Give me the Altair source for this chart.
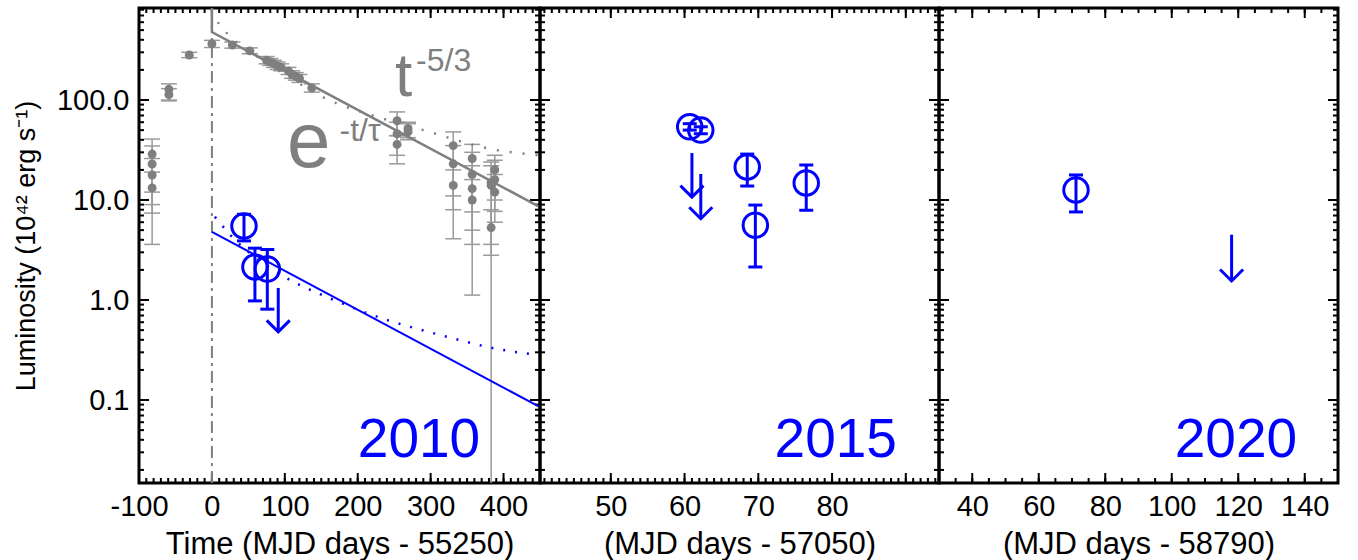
import altair as alt
import pandas as pd

# ---------------- data ----------------
YMIN, YMAX = 0.0148, 832.0

# Panel 2010: grey (optical) light curve, days since MJD 55250
grey_day = [-82, -82, -82, -82, -59, -59, -31, 0, 28, 52, 75, 80, 85, 90, 95, 105, 110, 115, 120, 137,
            254, 254, 254, 269, 269, 331, 331, 331, 357, 357, 357, 357, 383, 383, 383, 388, 388, 388]
grey_lum = [28.8, 22.9, 17.8, 13.2, 128, 113, 282, 365, 355, 310, 250, 240, 230, 220, 212, 195, 180, 172, 165, 132,
            62, 46, 36, 52, 48, 35, 23, 14, 26, 18, 13, 10, 15, 14, 5.3, 20, 12, 16]
grey_lo = [7.4, 3.6, 12, 9, 98, 100, 265, 335, 330, 290, 230, 222, 212, 202, 196, 180, 165, 158, 150, 120,
           44, 23, 28, 42, 40, 11, 4.1, 8, 7.6, 3.6, 1.12, 5, YMIN, 2.8, 3.6, 7.7, 6, 10]
grey_hi = [40.7, 34.7, 26, 19, 145, 130, 300, 395, 380, 332, 272, 260, 250, 240, 230, 212, 196, 188, 180, 145,
           76, 60, 44, 60, 58, 48, 35, 20, 36, 30, 22, 16, 24, 22, 8, 28, 18, 25]

# model curves
gexp_day = [0, 0, 450]
gexp_lum = [832, 478, 8.5]
gpow_day = [8, 25, 60, 100, 158, 218, 290, 386, 450]
gpow_lum = [600, 430, 280, 180, 102, 71, 50, 32, 28]
bexp_day = [0, 450]
bexp_lum = [4.8, 0.085]
bpow_day = [4, 25, 100, 158, 217, 322, 386, 450]
bpow_lum = [6.8, 4.5, 1.7, 1.07, 0.72, 0.43, 0.33, 0.28]

# blue detections / upper limits per epoch
b1_day = [44, 59, 76]
b1_lum = [5.5, 2.14, 2.04]
b1_lo = [3.9, 0.98, 0.81]
b1_hi = [7.2, 3.3, 3.2]
u1_day = [91]
u1_top = [1.32]
u1_tip = [0.48]

b2_day = [60.7, 62.2, 68.5, 69.6, 76.5]
b2_lum = [54, 50, 21.4, 5.6, 14.8]
b2_lo = [50, 46, 13.8, 2.14, 7.9]
b2_hi = [58, 54, 28.8, 8.9, 22.4]
u2_day = [61, 62.2]
u2_top = [29.5, 18.2]
u2_tip = [10.7, 6.5]

b3_day = [71.2]
b3_lum = [12.6]
b3_lo = [7.6]
b3_hi = [17.8]
u3_day = [118]
u3_top = [4.5]
u3_tip = [1.55]

# axis ticks
y_major = [0.1, 1, 10, 100]
y_minor = [0.02, 0.03, 0.04, 0.05, 0.06, 0.07, 0.08, 0.09,
           0.2, 0.3, 0.4, 0.5, 0.6, 0.7, 0.8, 0.9,
           2, 3, 4, 5, 6, 7, 8, 9,
           20, 30, 40, 50, 60, 70, 80, 90,
           200, 300, 400, 500, 600, 700, 800]
x1_major = [-100, 0, 100, 200, 300, 400]
x1_minor = list(range(-100, 451, 10))
x2_major = [50, 60, 70, 80, 90]
x2_minor = list(range(41, 95, 1))
x3_major = [40, 60, 80, 100, 120, 140]
x3_minor = list(range(30, 151, 5))

FONT = "Liberation Sans"
BLUE = "#0000ff"
GREY = "#7f7f7f"
GREY_ERR = "#9a9a9a"
H = 475
FS = 29

yscale = alt.Scale(type="log", domain=[YMIN, YMAX], nice=False)


def panel(dom, width, xlabels, xmaj, xmin_, xtitle, show_y, blue, ul, year, extra=None):
    xscale = alt.Scale(domain=dom, nice=False, zero=False)
    xaxis = alt.Axis(values=xlabels, ticks=False, domain=False, grid=False,
                     labelFont=FONT, labelFontSize=FS, labelColor="black", labelPadding=9,
                     labelExpr="'' + datum.value", labelFlush=False, labelOverlap=False,
                     title=xtitle, titleFont=FONT, titleFontSize=31, titleFontWeight="normal",
                     titleColor="black", titlePadding=8)
    if show_y:
        yaxis = alt.Axis(values=y_major, ticks=False, tickSize=0, domain=False, grid=False,
                         labelFont=FONT, labelFontSize=FS, labelColor="black", labelPadding=10,
                         format=".1f", labelFlush=False, labelOverlap=False,
                         title="Luminosity (10⁴² erg s⁻¹)", titleFont=FONT, titleFontSize=27,
                         titleFontWeight="normal", titleColor="black", titlePadding=16)
    else:
        yaxis = None

    def X(f):
        return alt.X(f, type="quantitative", scale=xscale, axis=xaxis)

    def Y(f):
        return alt.Y(f, type="quantitative", scale=yscale, axis=yaxis)

    layers = []
    # ticks (inward, all four sides)
    ymj = pd.DataFrame({"v": y_major})
    ymn = pd.DataFrame({"v": y_minor})
    xmj = pd.DataFrame({"v": xmaj})
    xmn = pd.DataFrame({"v": xmin_})
    for df, ln in ((ymj, 10), (ymn, 5)):
        layers.append(alt.Chart(df).mark_rule(color="black", strokeWidth=2).encode(
            y=Y("v"), x=alt.value(0), x2=alt.value(ln)))
        layers.append(alt.Chart(df).mark_rule(color="black", strokeWidth=2).encode(
            y=Y("v"), x=alt.value(width), x2=alt.value(width - ln)))
    for df, ln in ((xmj, 10), (xmn, 5)):
        layers.append(alt.Chart(df).mark_rule(color="black", strokeWidth=2).encode(
            x=X("v"), y=alt.value(H), y2=alt.value(H - ln)))
        layers.append(alt.Chart(df).mark_rule(color="black", strokeWidth=2).encode(
            x=X("v"), y=alt.value(0), y2=alt.value(ln)))

    if extra is not None:
        layers.extend(extra(X, Y))

    # blue detections
    bdf = pd.DataFrame({"day": blue[0], "lum": blue[1], "lo": blue[2], "hi": blue[3]})
    layers.append(alt.Chart(bdf).mark_rule(color=BLUE, strokeWidth=3, clip=True).encode(
        x=X("day"), y=Y("lo"), y2="hi"))
    for f in ("lo", "hi"):
        layers.append(alt.Chart(bdf).mark_point(shape="M-1,0L1,0", size=196, color=BLUE,
                                                strokeWidth=3, filled=False, opacity=1).encode(
            x=X("day"), y=Y(f)))
    layers.append(alt.Chart(bdf).mark_point(shape="circle", size=600, color=BLUE,
                                            strokeWidth=3, filled=False, opacity=1).encode(
        x=X("day"), y=Y("lum")))
    # upper limits
    udf = pd.DataFrame({"day": ul[0], "top": ul[1], "tip": ul[2]})
    layers.append(alt.Chart(udf).mark_rule(color=BLUE, strokeWidth=3).encode(
        x=X("day"), y=Y("top"), y2="tip"))
    layers.append(alt.Chart(udf).mark_point(shape="M-1,-1L0,0L1,-1", size=530, color=BLUE,
                                            strokeWidth=3, filled=False, opacity=1).encode(
        x=X("day"), y=Y("tip")))
    # year label
    ydf = pd.DataFrame({"day": [year[0]], "lum": [year[1]], "t": [year[2]]})
    layers.append(alt.Chart(ydf).mark_text(font=FONT, fontSize=55, color=BLUE, align="right",
                                           baseline="alphabetic").encode(
        x=X("day"), y=Y("lum"), text="t:N"))

    return alt.layer(*layers).properties(width=width, height=H)


def extra2010(X, Y):
    out = []
    vdf = pd.DataFrame({"day": [0, 0], "lum": [YMIN, YMAX]})
    out.append(alt.Chart(vdf).mark_rule(color=GREY, strokeWidth=2, strokeDash=[12, 5, 3, 5]).encode(
        x=X("day"), y=Y("lum"), y2=alt.value(0)))
    gdf = pd.DataFrame({"day": grey_day, "lum": grey_lum, "lo": grey_lo, "hi": grey_hi})
    out.append(alt.Chart(gdf).mark_rule(color=GREY_ERR, strokeWidth=1.5, clip=True).encode(
        x=X("day"), y=Y("lo"), y2="hi"))
    gcap = gdf[gdf["lo"] > YMIN]
    out.append(alt.Chart(gcap).mark_point(shape="M-1,0L1,0", size=256, color=GREY_ERR,
                                          strokeWidth=1.5, filled=False, opacity=1).encode(
        x=X("day"), y=Y("lo")))
    out.append(alt.Chart(gdf).mark_point(shape="M-1,0L1,0", size=256, color=GREY_ERR,
                                         strokeWidth=1.5, filled=False, opacity=1).encode(
        x=X("day"), y=Y("hi")))
    out.append(alt.Chart(gdf).mark_circle(size=80, color=GREY, opacity=1).encode(
        x=X("day"), y=Y("lum")))
    ge = pd.DataFrame({"day": gexp_day, "lum": gexp_lum, "o": list(range(len(gexp_day)))})
    out.append(alt.Chart(ge).mark_line(color=GREY, strokeWidth=2.5).encode(
        x=X("day"), y=Y("lum"), order="o:Q"))
    gp = pd.DataFrame({"day": gpow_day, "lum": gpow_lum})
    out.append(alt.Chart(gp).mark_line(color=GREY, strokeWidth=2.5, strokeDash=[2, 11],
                                       interpolate="monotone").encode(
        x=X("day"), y=Y("lum")))
    be = pd.DataFrame({"day": bexp_day, "lum": bexp_lum})
    out.append(alt.Chart(be).mark_line(color=BLUE, strokeWidth=2).encode(
        x=X("day"), y=Y("lum")))
    bp = pd.DataFrame({"day": bpow_day, "lum": bpow_lum})
    out.append(alt.Chart(bp).mark_line(color=BLUE, strokeWidth=2.5, strokeDash=[2, 10],
                                       interpolate="monotone").encode(
        x=X("day"), y=Y("lum")))
    # model labels
    big = pd.DataFrame({"day": [251, 103], "lum": [110, 21.4], "t": ["t", "e"], "s": [62, 78]})
    out.append(alt.Chart(big).mark_text(font=FONT, color=GREY, align="left",
                                        baseline="alphabetic").encode(
        x=X("day"), y=Y("lum"), text="t:N", size=alt.Size("s:Q", scale=None, legend=None)))
    sup = pd.DataFrame({"day": [280, 175], "lum": [195, 39], "t": ["-5/3", "-t/τ"]})
    out.append(alt.Chart(sup).mark_text(font=FONT, fontSize=32, color=GREY, align="left",
                                        baseline="alphabetic").encode(
        x=X("day"), y=Y("lum"), text="t:N"))
    return out


p1 = panel([-100, 450], 401, x1_major, x1_major, x1_minor, "Time (MJD days - 55250)", True,
           (b1_day, b1_lum, b1_lo, b1_hi), (u1_day, u1_top, u1_tip), (368, 0.0269, "2010"),
           extra=extra2010)
p2 = panel([40.4, 94.5], 399, [50, 60, 70, 80], x2_major, x2_minor, "(MJD days - 57050)", False,
           (b2_day, b2_lum, b2_lo, b2_hi), (u2_day, u2_top, u2_tip), (88.8, 0.0269, "2015"))
p3 = panel([30, 150], 399, x3_major, x3_major, x3_minor, "(MJD days - 58790)", False,
           (b3_day, b3_lum, b3_lo, b3_hi), (u3_day, u3_top, u3_tip), (137.7, 0.0269, "2020"))

chart = alt.hconcat(p1, p2, p3, spacing=0, bounds="flush").properties(
    padding={"left": 10, "top": 1, "right": 5, "bottom": 5}
).configure_view(stroke="black", strokeWidth=3).configure_concat(spacing=0)

chart.save("out.html", embed_options={"renderer": "svg", "actions": False})
